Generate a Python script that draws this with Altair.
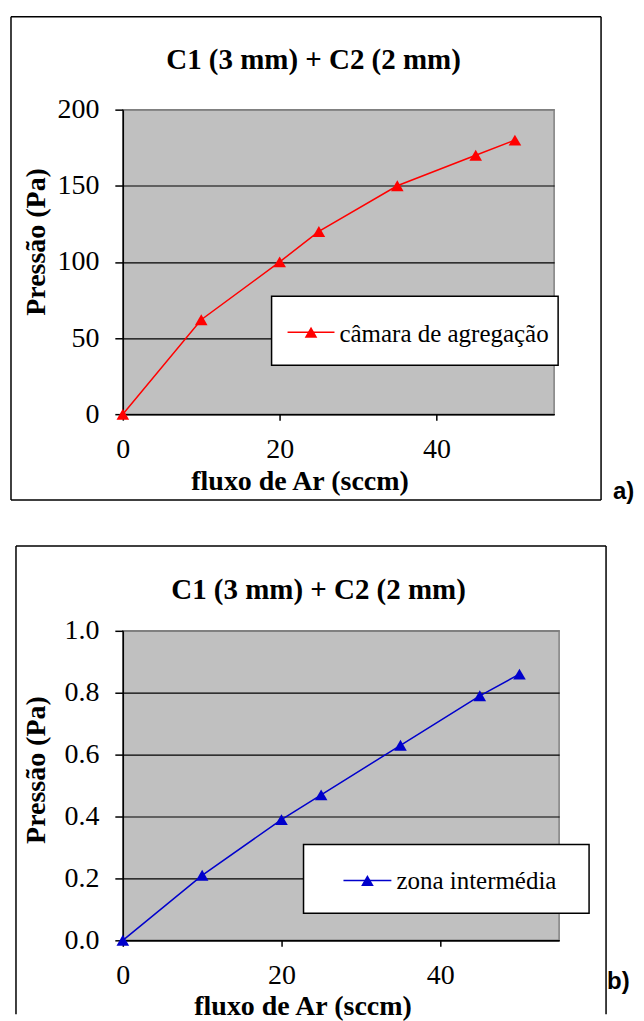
import altair as alt
import pandas as pd

# ---- data ----
x_flow = [0, 10, 20, 25, 35, 45, 50]
p_camara = [0, 62, 100, 120, 150, 170, 180]
p_zona = [0, 0.21, 0.39, 0.47, 0.63, 0.79, 0.86]
series_names = ["câmara de agregação", "zona intermédia"]
panel_tags = ["a)", "b)"]
chart_title = "C1 (3 mm) + C2 (2 mm)"
x_title = "fluxo de Ar (sccm)"
y_title = "Pressão (Pa)"
x_ticks = [0, 20, 40]
y_ticks_a = [0, 50, 100, 150, 200]
y_ticks_b = [0.0, 0.2, 0.4, 0.6, 0.8, 1.0]

SERIF = "Liberation Serif"
SANS = "Liberation Sans"


def panel(y_vals, name, tag, color, y_ticks, y_fmt, W, H, g):
    df = pd.DataFrame({"x": x_flow, "y": y_vals})
    y_max = y_ticks[-1]
    x_enc = alt.X(
        "x:Q",
        scale=alt.Scale(domain=[0, 55], nice=False, zero=False),
        axis=alt.Axis(
            values=x_ticks, title=x_title, grid=False,
            tickSize=6, tickColor="black", tickWidth=1.5,
            domainColor="black", domainWidth=1.5,
            labelFont=SERIF, labelFontSize=28, labelColor="black",
            labelPadding=g["xlp"], labelFlush=False,
            titleFont=SERIF, titleFontSize=28, titleFontWeight="bold",
            titleColor="black", titleX=g["xtx"], titleY=g["xty"],
            titleBaseline="alphabetic", titleAlign="center",
        ),
    )
    y_enc = alt.Y(
        "y:Q",
        scale=alt.Scale(domain=[0, y_max], nice=False),
        axis=alt.Axis(
            values=y_ticks, format=y_fmt, title=y_title,
            tickSize=8, tickColor="black", tickWidth=1.5,
            domainColor="black", domainWidth=1.5,
            grid=True, gridWidth=1.2, gridOpacity=1,
            gridColor={"condition": {"test": f"datum.value >= {y_max}", "value": "#808080"}, "value": "black"},
            labelFont=SERIF, labelFontSize=28, labelColor="black",
            labelPadding=g["ylp"], labelFlush=False,
            titleFont=SERIF, titleFontSize=28, titleFontWeight="bold",
            titleColor="black", titleAngle=270, titleX=g["ytx"], titleY=g["yty"],
            titleBaseline="alphabetic", titleAlign="center",
        ),
    )
    base = alt.Chart(df)
    line = base.mark_line(color=color, strokeWidth=1.5).encode(x=x_enc, y=y_enc)
    pts = base.mark_point(shape="triangle-up", filled=True, size=160, color=color, opacity=1).encode(x="x:Q", y="y:Q")

    one = pd.DataFrame({"k": [0]})
    bx1, bx2, by1, by2 = g["bx1"], W + g["bx2"], g["by1"], H + g["by2"]
    frame = []
    # left, right, top edges of the outer panel frame
    frame.append(alt.Chart(one).mark_rule(color="black", strokeWidth=1.5).encode(
        x=alt.value(bx1), y=alt.value(by1), y2=alt.value(by2)))
    frame.append(alt.Chart(one).mark_rule(color="black", strokeWidth=1.5).encode(
        x=alt.value(bx2), y=alt.value(by1), y2=alt.value(by2)))
    frame.append(alt.Chart(one).mark_rule(color="black", strokeWidth=1.5).encode(
        x=alt.value(bx1), x2=alt.value(bx2), y=alt.value(by1)))
    if g["bottom"]:
        frame.append(alt.Chart(one).mark_rule(color="black", strokeWidth=1.5).encode(
            x=alt.value(bx1), x2=alt.value(bx2), y=alt.value(by2)))

    title = alt.Chart(pd.DataFrame({"t": [chart_title]})).mark_text(
        font=SERIF, fontSize=29, fontWeight="bold", color="black",
        align="center", baseline="alphabetic",
    ).encode(text="t:N", x=alt.value(g["tx"]), y=alt.value(g["ty"]))
    tagm = alt.Chart(pd.DataFrame({"t": [tag]})).mark_text(
        font=SANS, fontSize=24, fontWeight="bold", color="black",
        align="left", baseline="alphabetic",
    ).encode(text="t:N", x=alt.value(g["gx"]), y=alt.value(g["gy"]))

    L = g["leg"]
    leg_box = alt.Chart(one).mark_rect(fill="white", stroke="black", strokeWidth=1.5).encode(
        x=alt.value(L[0]), x2=alt.value(L[1]), y=alt.value(L[2]), y2=alt.value(L[3]),
    )
    leg_line = alt.Chart(one).mark_rule(color=color, strokeWidth=1.5).encode(
        x=alt.value(L[4]), x2=alt.value(L[5]), y=alt.value(L[6]),
    )
    leg_pt = alt.Chart(one).mark_point(shape="triangle-up", filled=True, size=160, color=color, opacity=1).encode(
        x=alt.value((L[4] + L[5]) / 2), y=alt.value(L[6]),
    )
    leg_txt = alt.Chart(pd.DataFrame({"t": [name]})).mark_text(
        font=SERIF, fontSize=25, color="black", align="left", baseline="alphabetic",
    ).encode(text="t:N", x=alt.value(L[7]), y=alt.value(L[8]))

    return alt.layer(*frame, line, pts, leg_box, leg_line, leg_pt, leg_txt, title, tagm).properties(
        width=W, height=H
    )


geo_a = dict(xlp=15, xtx=177, xty=75, ylp=16, ytx=-78, yty=132,
             bx1=-112, bx2=47, by1=-93, by2=86, bottom=True, tx=191, ty=-41, gx=491, gy=390,
             leg=[149, 436, 187, 256, 165, 212, 223, 217, 233])
geo_b = dict(xlp=15, xtx=180, xty=74, ylp=16, ytx=-78, yty=139,
             bx1=-107, bx2=47, by1=-85, by2=74, bottom=False, tx=196, ty=-32, gx=485, gy=359,
             leg=[181, 467, 214, 283, 221, 269, 250, 274, 259])

pa = panel(p_camara, series_names[0], panel_tags[0], "#FF0000", y_ticks_a, "d", 432, 305, geo_a)
pb = panel(p_zona, series_names[1], panel_tags[1], "#0000CC", y_ticks_b, ".1f", 437, 310, geo_b)

chart = alt.vconcat(pa, pb, spacing=217, bounds="flush").properties(
    padding={"left": 1, "top": 6, "right": 0, "bottom": 0},
    background="white",
).configure_view(fill="#C0C0C0", stroke="#808080", strokeWidth=1.5)

chart.save("out.html", embed_options={"renderer": "svg", "actions": False})
